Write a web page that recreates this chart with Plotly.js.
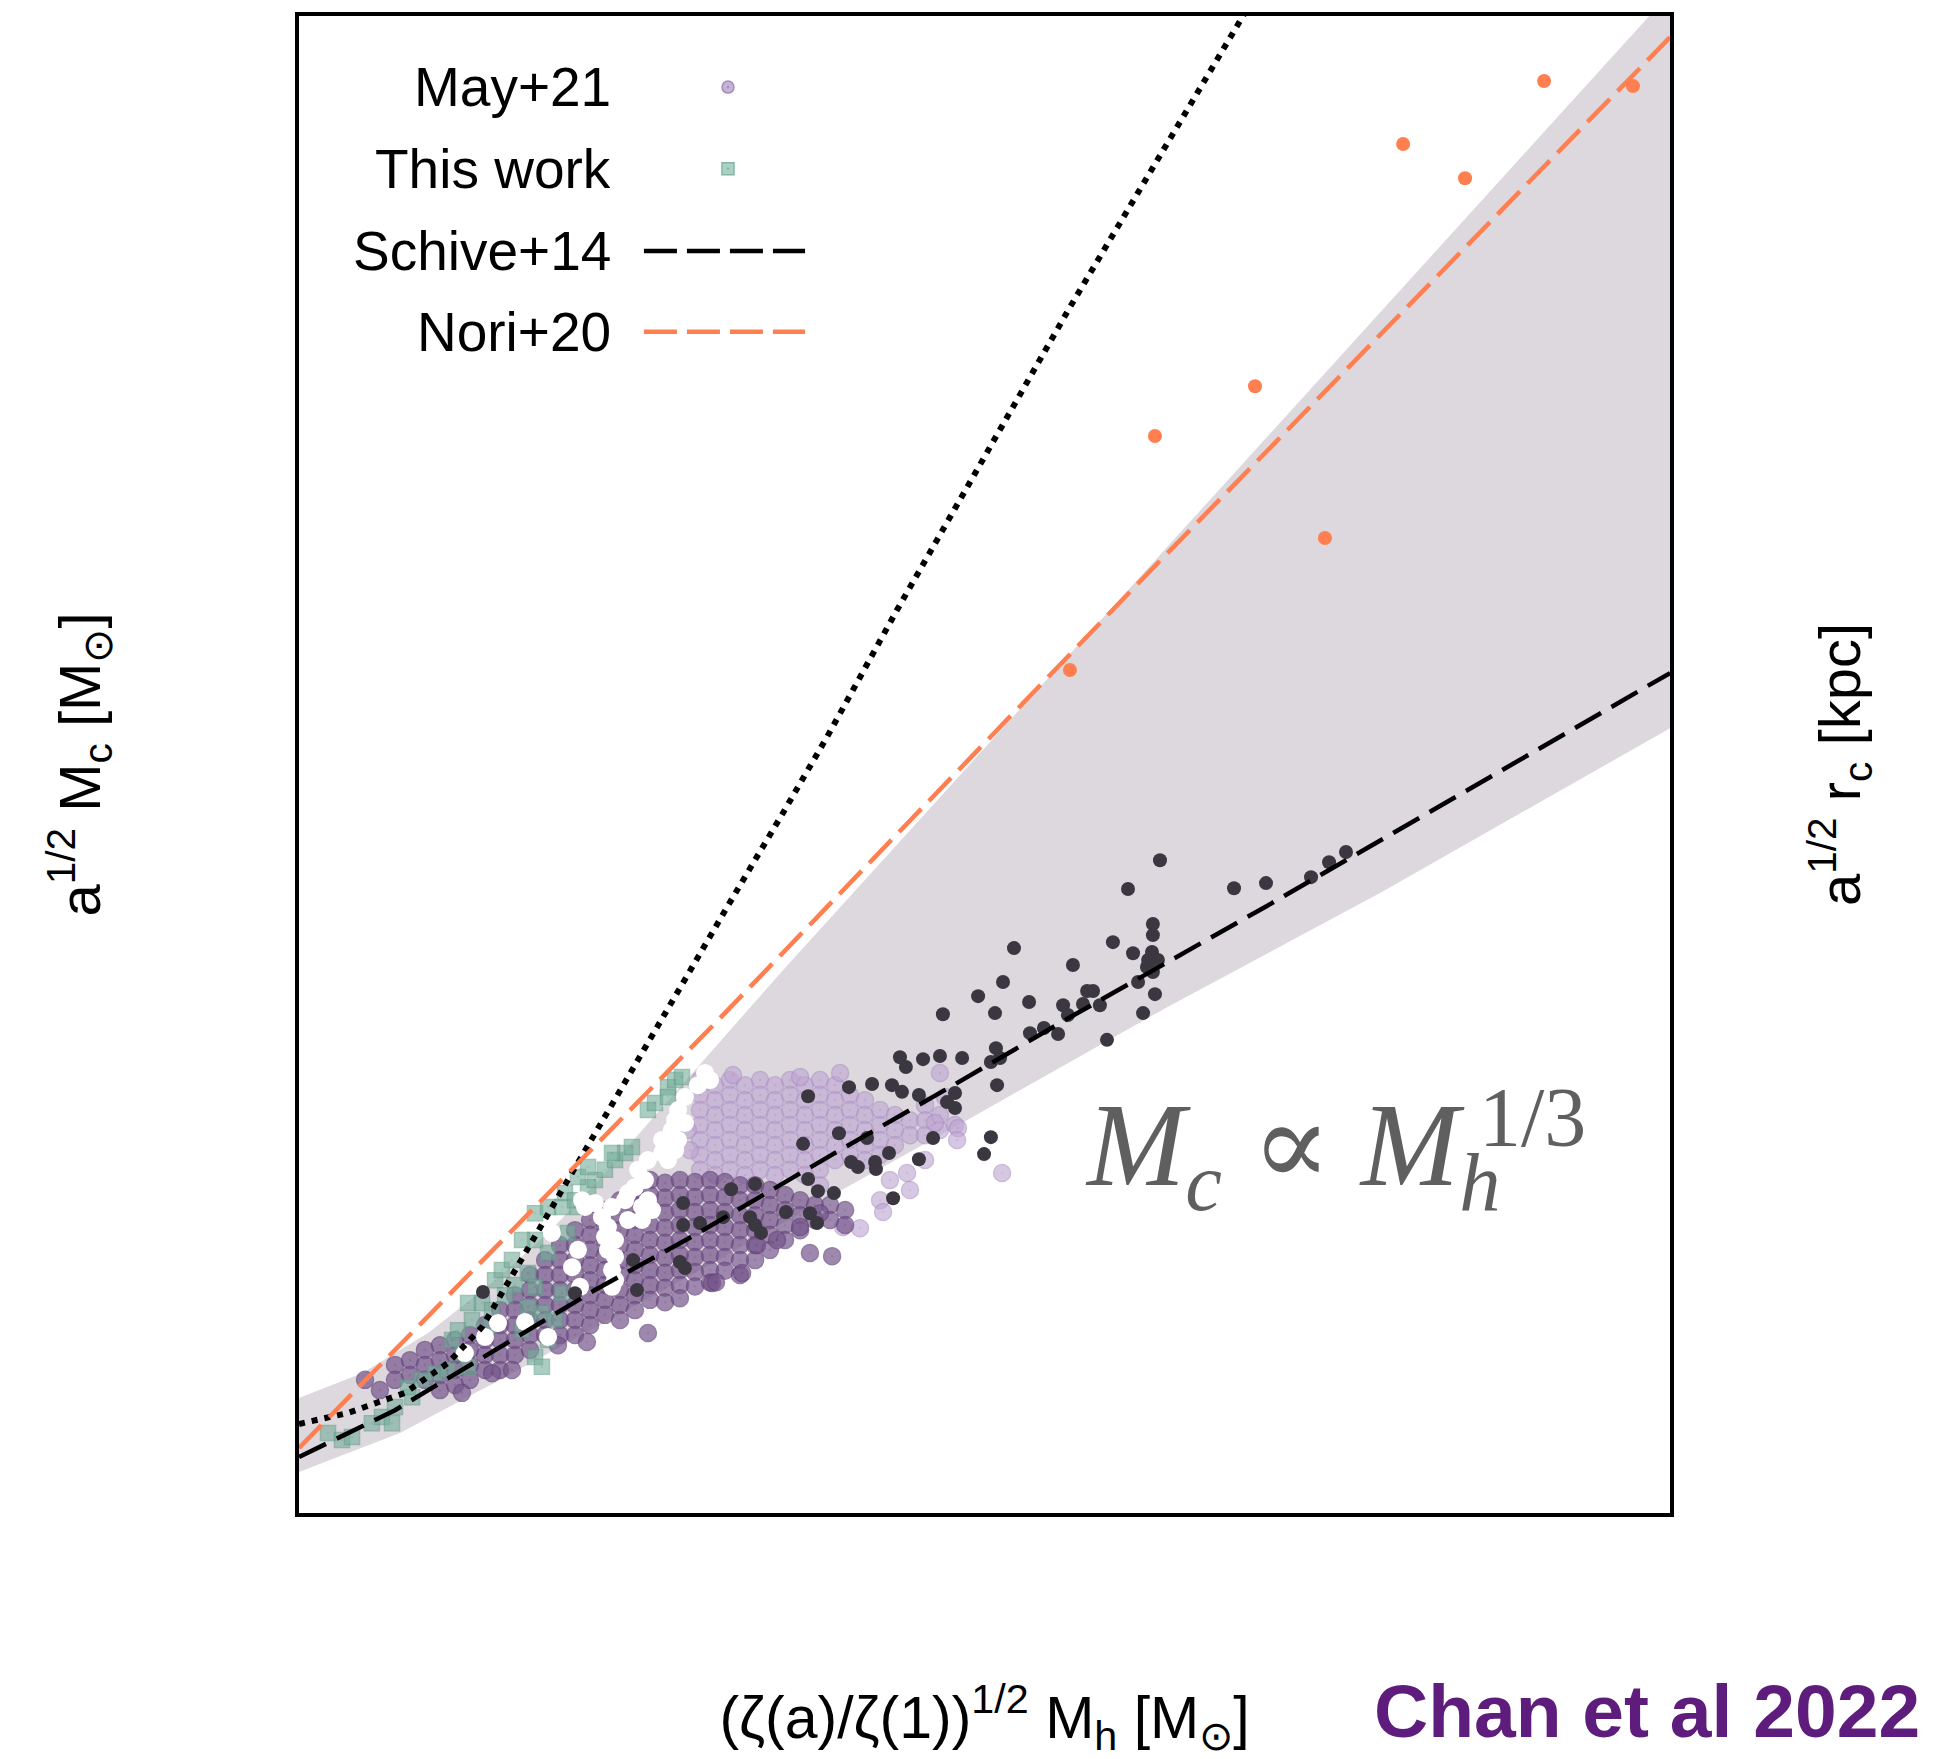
<!DOCTYPE html>
<html>
<head>
<meta charset="utf-8">
<script src="https://cdn.plot.ly/plotly-3.0.1.min.js"></script>
<style>html,body{margin:0;padding:0;background:#fff;}#chart{width:1935px;height:1759px;}</style>
</head>
<body>
<div id="chart"></div>
<script>
// ---- Data (x: log-scaled halo mass axis, y: log-scaled core mass axis; no tick labels in the original) ----
const schiveX = [7.000, 7.420, 7.845, 8.295, 8.733, 9.337, 9.849, 10.361, 11.236, 12.168, 13.000];
const schiveY = [6.142, 6.261, 6.409, 6.566, 6.706, 6.911, 7.081, 7.254, 7.541, 7.855, 8.132];

const noriX = [7.000, 8.834, 10.716, 13.000];
const noriY = [6.165, 7.251, 8.386, 9.746];

const dottedX = [7.000, 7.214, 7.464, 7.652, 7.801, 7.989, 8.151, 8.326, 8.501, 8.681, 8.899, 9.118, 9.311, 9.617, 10.374, 11.162];
const dottedY = [6.226, 6.254, 6.305, 6.381, 6.472, 6.660, 6.820, 6.997, 7.168, 7.345, 7.563, 7.777, 7.970, 8.292, 9.061, 9.830];

const bandUpperX = [7.000, 7.276, 7.565, 7.858, 8.090, 8.295, 8.514, 8.733, 8.908, 9.118, 9.411, 9.630, 10.068, 11.398, 12.921, 13.000];
const bandUpperY = [6.292, 6.355, 6.457, 6.591, 6.711, 6.835, 6.980, 7.125, 7.240, 7.378, 7.565, 7.705, 7.985, 8.835, 9.808, 9.858];
const bandLowerX = [7.000, 7.442, 7.880, 8.317, 8.755, 9.193, 9.923, 10.799, 11.731, 13.000];
const bandLowerY = [6.104, 6.203, 6.338, 6.477, 6.617, 6.761, 6.997, 7.284, 7.574, 7.992];

const noriSimX = [10.374, 10.746, 11.184, 11.490, 11.832, 12.103, 12.449, 12.838];
const noriSimY = [8.140, 8.734, 8.860, 8.475, 9.475, 9.388, 9.635, 9.622];

const darkX = [10.768,10.628,11.092,11.232,11.429,11.508,11.582,10.737,10.737,10.562,10.650,10.733,10.716,10.759,10.711,10.737,10.672,10.746,10.694,10.536,
  10.387,10.129,10.081,9.972,9.818,10.046,10.195,10.344,10.431,10.449,10.475,10.505,10.365,10.199,10.260,10.322,10.050,10.028,10.068,10.055,
  9.902,9.805,9.731,9.656,9.871,9.836,9.871,9.713,9.639,9.630,9.407,9.508,9.595,9.228,9.363,9.206,9.486,9.582,9.416,9.446,
  9.521,9.525,9.775,9.713,10.028,9.998,9.228,9.271,9.341,9.600,8.891,8.996,9.131,9.236,9.267,8.974,8.996,9.022,8.856,8.755,
  8.681,8.681,8.462,8.667,8.689,8.479,8.208,7.805];
const darkY = [7.657,7.584,7.586,7.599,7.614,7.652,7.678,7.495,7.467,7.449,7.421,7.424,7.404,7.404,7.386,7.373,7.348,7.317,7.269,7.201,
  7.391,7.434,7.348,7.312,7.266,7.269,7.297,7.289,7.292,7.325,7.325,7.289,7.264,7.218,7.231,7.216,7.180,7.145,7.155,7.086,
  7.155,7.160,7.152,7.132,7.066,7.043,7.028,7.061,7.069,7.157,7.081,7.089,7.086,7.058,6.964,6.937,6.952,6.914,6.891,6.878,
  6.891,6.873,6.952,6.898,6.954,6.911,6.848,6.817,6.812,6.799,6.822,6.835,6.764,6.761,6.736,6.751,6.731,6.711,6.751,6.736,
  6.787,6.731,6.642,6.637,6.622,6.566,6.558,6.561];

const mayDarkX = [7.420,7.420, 7.486,7.486, 7.551,7.551,7.551, 7.617,7.617,7.617,7.617, 7.683,7.683,7.683,7.683, 7.748,7.748,7.748,7.748,
  7.814,7.814,7.814,7.814, 7.880,7.880,7.880,7.880,7.880, 7.945,7.945,7.945,7.945,7.945, 8.011,8.011,8.011,8.011,8.011,8.011,
  8.077,8.077,8.077,8.077,8.077,8.077, 8.142,8.142,8.142,8.142,8.142,8.142,8.142, 8.208,8.208,8.208,8.208,8.208,8.208,8.208,8.208,
  8.274,8.274,8.274,8.274,8.274,8.274,8.274,8.274, 8.339,8.339,8.339,8.339,8.339,8.339,8.339,8.339,
  8.405,8.405,8.405,8.405,8.405,8.405,8.405,8.405,8.405, 8.470,8.470,8.470,8.470,8.470,8.470,8.470,8.470,8.470,
  8.536,8.536,8.536,8.536,8.536,8.536,8.536,8.536,8.536, 8.602,8.602,8.602,8.602,8.602,8.602,8.602,8.602,8.602,
  8.667,8.667,8.667,8.667,8.667,8.667,8.667,8.667,8.667, 8.733,8.733,8.733,8.733,8.733,8.733,8.733,8.733,
  8.799,8.799,8.799,8.799,8.799,8.799,8.799,8.799, 8.864,8.864,8.864,8.864,8.864,8.864,8.864,
  8.930,8.930,8.930,8.930,8.930,8.930,8.930, 8.996,8.996,8.996,8.996,8.996,8.996, 9.061,9.061,9.061,9.061,9.061,
  9.127,9.127,9.127,9.127, 9.193,9.193,9.193, 9.258,9.258, 9.324,9.324, 9.390,9.390,
  8.527,8.808,8.939,8.260,8.133,7.932,7.713,7.845,9.236,9.333,8.825,9.004,9.092,9.193,9.280,7.354,7.289];
const mayDarkY = [6.376,6.338, 6.388,6.350, 6.414,6.376,6.338, 6.426,6.388,6.350,6.312, 6.439,6.401,6.363,6.325, 6.452,6.414,6.376,6.338,
  6.477,6.439,6.401,6.363, 6.515,6.477,6.439,6.401,6.363, 6.553,6.515,6.477,6.439,6.401, 6.604,6.566,6.528,6.490,6.452,6.414,
  6.642,6.604,6.566,6.528,6.490,6.452, 6.680,6.642,6.604,6.566,6.528,6.490,6.452, 6.718,6.680,6.642,6.604,6.566,6.528,6.490,6.452,
  6.744,6.706,6.668,6.629,6.591,6.553,6.515,6.477, 6.769,6.731,6.693,6.655,6.617,6.579,6.541,6.503,
  6.794,6.756,6.718,6.680,6.642,6.604,6.566,6.528,6.490, 6.820,6.782,6.744,6.706,6.668,6.629,6.591,6.553,6.515,
  6.845,6.807,6.769,6.731,6.693,6.655,6.617,6.579,6.541, 6.838,6.800,6.762,6.724,6.686,6.648,6.610,6.572,6.535,
  6.845,6.807,6.769,6.731,6.693,6.655,6.617,6.579,6.545, 6.840,6.802,6.764,6.726,6.688,6.650,6.612,6.575,
  6.845,6.807,6.769,6.731,6.693,6.655,6.617,6.585, 6.840,6.802,6.764,6.726,6.688,6.650,6.615,
  6.832,6.794,6.756,6.718,6.680,6.642,6.604, 6.832,6.794,6.756,6.718,6.680,6.642, 6.820,6.782,6.744,6.706,6.668,
  6.807,6.769,6.731,6.693, 6.794,6.756,6.718, 6.782,6.744, 6.782,6.744, 6.769,6.731,
  6.457,6.584,6.609,6.434,6.426,6.363,6.305,6.355,6.660,6.652,6.586,6.680,6.693,6.726,6.761,6.312,6.338];

const mayLightX = [8.755,8.755,8.755,8.755,8.755,8.755,8.755, 8.821,8.821,8.821,8.821,8.821,8.821,8.821,
  8.886,8.886,8.886,8.886,8.886,8.886,8.886, 8.952,8.952,8.952,8.952,8.952,8.952,8.952,
  9.018,9.018,9.018,9.018,9.018,9.018,9.018, 9.083,9.083,9.083,9.083,9.083,9.083,9.083,
  9.149,9.149,9.149,9.149,9.149,9.149,9.149, 9.214,9.214,9.214,9.214,9.214,9.214,9.214,
  9.280,9.280,9.280,9.280,9.280,9.280,9.280,9.280, 9.346,9.346,9.346,9.346,9.346,9.346,
  9.411,9.411,9.411,9.411,9.411, 9.477,9.477,9.477,9.477,9.477, 9.543,9.543,9.543,9.543, 9.608,9.608,9.608, 9.674,9.674,
  9.740,9.740,9.740, 9.805,9.805, 9.871,
  9.783,9.884,9.880,10.077,9.661,9.674,9.543,9.556,9.455,9.381,9.805,9.368,8.899,9.193,9.827,9.740,9.586,8.711,8.702];
const mayLightY = [7.099,7.061,7.023,6.985,6.947,6.909,6.871, 7.086,7.048,7.010,6.972,6.934,6.896,6.858,
  7.099,7.061,7.023,6.985,6.947,6.909,6.871, 7.086,7.048,7.010,6.972,6.934,6.896,6.858,
  7.099,7.061,7.023,6.985,6.947,6.909,6.871, 7.086,7.048,7.010,6.972,6.934,6.896,6.858,
  7.099,7.061,7.023,6.985,6.947,6.909,6.871, 7.086,7.048,7.010,6.972,6.934,6.896,6.858,
  7.099,7.061,7.023,6.985,6.947,6.909,6.871,6.832, 7.086,7.048,7.010,6.972,6.934,6.896,
  7.061,7.023,6.985,6.947,6.909, 7.048,7.010,6.972,6.934,6.896, 7.023,6.985,6.947,6.909, 7.010,6.972,6.934, 6.997,6.959,
  7.035,6.997,6.959, 7.010,6.972, 6.985,
  6.990,6.977,6.947,6.863,6.863,6.820,6.794,6.764,6.723,6.726,7.117,7.117,7.112,7.107,7.056,6.896,6.845,6.921,6.972];

const thisWorkX = [7.127,7.188,7.232,7.319,7.363,7.407,7.420,7.495,7.477,7.538,7.595,7.652,7.740,7.713,7.670,7.696,7.757,7.740,7.801,7.845,
  7.858,7.888,7.932,8.002,8.033,8.002,8.063,7.976,8.033,8.063,8.090,8.120,8.151,8.090,8.033,7.976,8.033,8.090,8.151,8.177,
  8.221,8.265,8.295,8.221,8.339,8.383,8.427,8.457,8.370,8.265,8.164,8.208,8.527,8.558,8.615,8.646,8.676,8.615,7.945,7.902,7.836];
const thisWorkY = [6.203,6.185,6.193,6.228,6.244,6.228,6.269,6.294,6.320,6.338,6.355,6.363,6.371,6.406,6.439,6.464,6.490,6.533,6.533,6.515,
  6.591,6.617,6.642,6.609,6.574,6.523,6.508,6.464,6.396,6.371,6.439,6.490,6.558,6.660,6.693,6.693,6.761,6.777,6.777,6.711,
  6.777,6.827,6.845,6.853,6.871,6.896,6.914,6.929,6.914,6.878,6.812,6.794,7.023,7.041,7.081,7.099,7.107,7.056,6.579,6.553,6.477];

const whiteX = [8.777,8.799,8.746,8.689,8.659,8.646,8.632,8.589,8.659,8.646,8.589,8.527,8.484,8.514,8.470,8.527,8.545,8.501,8.440,8.427,
  8.370,8.295,8.239,8.252,8.326,8.352,8.339,8.383,8.352,8.383,8.370,8.383,8.370,8.221,8.195,8.230,8.107,7.871,7.989,7.814,
  8.090,7.726,8.689,8.615,8.440,8.501];
const whiteY = [7.117,7.099,7.086,7.056,7.023,6.997,6.972,6.947,6.947,6.921,6.914,6.896,6.871,6.845,6.827,6.794,6.769,6.744,6.744,6.794,
  6.777,6.787,6.794,6.777,6.751,6.726,6.701,6.693,6.668,6.650,6.617,6.591,6.574,6.668,6.624,6.574,6.711,6.482,6.485,6.447,
  6.447,6.406,6.990,6.896,6.812,6.777];

// legend sample positions (overlay axis in [0,1] units)
const legendLabels = ['May+21', 'This work', 'Schive+14', 'Nori+20'];
const legendRowY = [0.9525, 0.8980, 0.8430, 0.7890];
const legendTextX = 0.229;
const legendMarkX = [0.3129];
const legendLineX = [0.2516, 0.3691];

// ---- Traces ----
const bandX = bandUpperX.concat(bandLowerX.slice().reverse());
const bandY = bandUpperY.concat(bandLowerY.slice().reverse());

const purple = 'rgb(118,86,140)';
const lightPurple = 'rgb(190,166,210)';
const teal = 'rgb(118,174,154)';
const serif = 'Liberation Serif, Times New Roman, DejaVu Serif, serif';

const traces = [
  {x: bandX, y: bandY, mode: 'lines', fill: 'toself', fillcolor: '#dcd8de', line: {width: 0}, hoverinfo: 'skip', showlegend: false},
  {x: mayLightX, y: mayLightY, mode: 'markers', showlegend: false,
   marker: {symbol: 'circle-dot', size: 17, color: lightPurple, opacity: 0.62, line: {color: 'rgb(172,145,196)', width: 1.5}}},
  {x: mayDarkX, y: mayDarkY, mode: 'markers', showlegend: false,
   marker: {symbol: 'circle-dot', size: 17, color: purple, opacity: 0.7, line: {color: 'rgb(100,70,124)', width: 1.5}}},
  {x: thisWorkX, y: thisWorkY, mode: 'markers', showlegend: false,
   marker: {symbol: 'square-dot', size: 15, color: teal, opacity: 0.6, line: {color: 'rgb(96,156,136)', width: 1.5}}},
  {x: whiteX, y: whiteY, mode: 'markers', showlegend: false, marker: {symbol: 'circle', size: 18, color: '#ffffff'}},
  {x: darkX, y: darkY, mode: 'markers', showlegend: false, marker: {symbol: 'circle', size: 14, color: '#3b3740'}},
  {x: noriSimX, y: noriSimY, mode: 'markers', showlegend: false, marker: {symbol: 'circle', size: 14, color: '#ff7f50'}},
  {x: dottedX, y: dottedY, mode: 'lines', showlegend: false, line: {color: '#000', width: 6, dash: '6px,7px'}},
  {x: noriX, y: noriY, mode: 'lines', showlegend: false, line: {color: '#ff7f50', width: 4.5, dash: '32px,11px'}},
  {x: schiveX, y: schiveY, mode: 'lines', showlegend: false, line: {color: '#000', width: 4.5, dash: '30px,12px'}},
  // custom legend samples (text on the left, symbol on the right as in the original)
  {x: legendMarkX, y: [legendRowY[0]], xaxis: 'x2', yaxis: 'y2', mode: 'markers', showlegend: false,
   marker: {symbol: 'circle-dot', size: 12, color: lightPurple, opacity: 0.85, line: {color: 'rgb(150,120,180)', width: 1.5}}},
  {x: legendMarkX, y: [legendRowY[1]], xaxis: 'x2', yaxis: 'y2', mode: 'markers', showlegend: false,
   marker: {symbol: 'square-dot', size: 12, color: 'rgb(160,205,190)', opacity: 0.9, line: {color: 'rgb(120,175,155)', width: 1.5}}},
  {x: legendLineX, y: [legendRowY[2], legendRowY[2]], xaxis: 'x2', yaxis: 'y2', mode: 'lines', showlegend: false,
   line: {color: '#000', width: 4.5, dash: '33px,10px'}},
  {x: legendLineX, y: [legendRowY[3], legendRowY[3]], xaxis: 'x2', yaxis: 'y2', mode: 'lines', showlegend: false,
   line: {color: '#ff7f50', width: 4.5, dash: '33px,10px'}}
];

const legendAnn = legendLabels.map((t, i) => ({
  text: t, xref: 'paper', yref: 'paper', x: legendTextX, y: legendRowY[i],
  xanchor: 'right', yanchor: 'middle', showarrow: false, font: {size: 55, color: '#000'}
}));

const layout = {
  width: 1935, height: 1759,
  margin: {l: 299, r: 265, t: 16, b: 246, pad: 0},
  paper_bgcolor: '#fff', plot_bgcolor: '#fff',
  showlegend: false,
  font: {family: 'Liberation Sans, Arial, Helvetica, sans-serif', color: '#000'},
  xaxis: {range: [7, 13], showgrid: false, zeroline: false, showticklabels: false, ticks: '',
          showline: true, mirror: true, linecolor: '#000', linewidth: 4,
          title: {text: '(ζ(a)/ζ(1))<sup>1/2</sup> M<sub>h</sub> [M<sub>⊙</sub>]', font: {size: 59}, standoff: 185}},
  yaxis: {range: [6, 9.8], showgrid: false, zeroline: false, showticklabels: false, ticks: '',
          showline: true, mirror: true, linecolor: '#000', linewidth: 4,
          title: {text: 'a<sup>1/2</sup> M<sub>c</sub> [M<sub>⊙</sub>]', font: {size: 58}, standoff: 177}},
  xaxis2: {overlaying: 'x', range: [0, 1], visible: false},
  yaxis2: {overlaying: 'y', side: 'right', range: [0, 1], showgrid: false, zeroline: false, showticklabels: false,
           ticks: '', showline: false,
           title: {text: 'a<sup>1/2</sup> r<sub>c</sub> [kpc]', font: {size: 58}, standoff: 149}},
  annotations: legendAnn.concat([
    {text: '<i>M</i><sub><i>c</i></sub> ∝ <i>M</i><sub><i>h</i></sub>', xref: 'x', yref: 'y', x: 10.431, y: 6.911,
     xanchor: 'left', yanchor: 'middle', showarrow: false,
     font: {family: serif, size: 118, color: '#5f5f5f'}},
    {text: '1/3', xref: 'x', yref: 'y', x: 12.400, y: 7.005, xanchor: 'center', yanchor: 'middle', showarrow: false,
     font: {family: serif, size: 84, color: '#5f5f5f'}},
    {text: '<b>Chan et al 2022</b>', xref: 'paper', yref: 'paper', x: 1.1838, y: -0.1325,
     xanchor: 'right', yanchor: 'middle', showarrow: false,
     font: {family: 'Liberation Sans, Arial, sans-serif', size: 75, color: '#5e1c7c'}}
  ])
};

Plotly.newPlot('chart', traces, layout, {displayModeBar: false, staticPlot: true});
</script>
</body>
</html>
